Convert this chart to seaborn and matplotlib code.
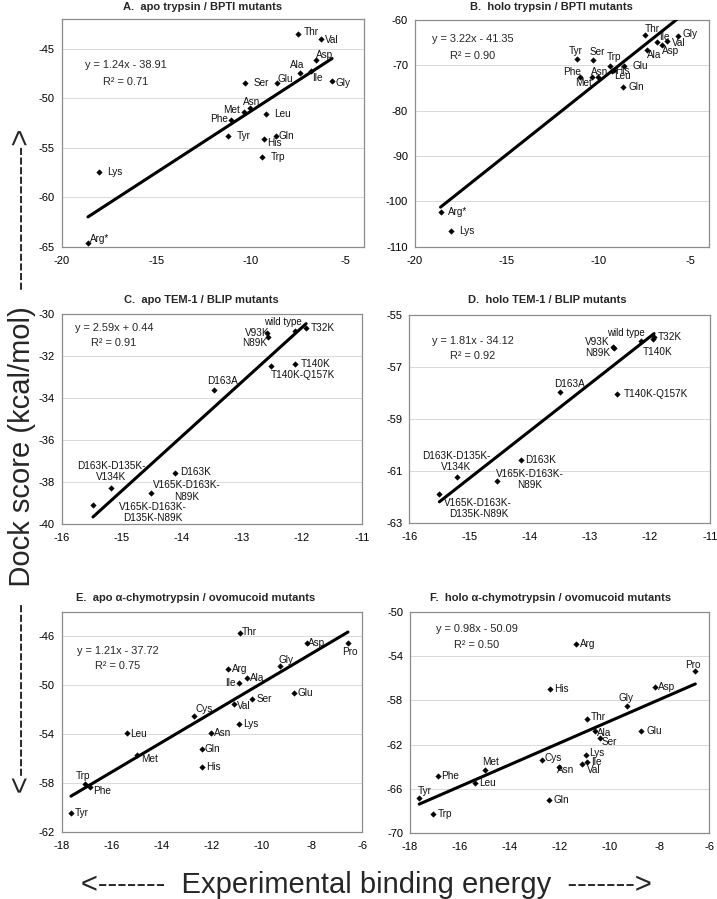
import matplotlib
matplotlib.use("Agg")
import matplotlib.pyplot as plt
import seaborn as sns
import pandas as pd
import numpy as np

sns.set_theme(style="white")
plt.rcParams['font.family'] = ['Liberation Sans', 'DejaVu Sans']

# ---------------- data ----------------
# Panel A / B : trypsin / BPTI mutants
ab_names = ['Thr', 'Val', 'Asp', 'Ala', 'Ile', 'Gly', 'Ser', 'Glu', 'Asn', 'Met',
            'Leu', 'Phe', 'Tyr', 'Gln', 'His', 'Trp', 'Lys', 'Arg*']
ab_x = [-7.47, -6.29, -6.54, -7.40, -6.82, -5.69, -10.29, -8.62, -10.03, -10.35,
        -9.18, -11.02, -11.18, -8.67, -9.27, -9.38, -18.02, -18.61]
a_y = [-43.46, -44.0, -46.1, -47.41, -47.24, -48.25, -48.45, -48.45, -50.93, -51.36,
       -51.53, -52.2, -53.81, -53.81, -54.08, -55.89, -57.46, -64.6]
b_y = [-63.24, -64.56, -65.44, -66.6, -64.93, -63.53, -68.9, -70.15, -72.65, -72.65,
       -71.0, -72.5, -68.6, -74.85, -71.2, -70.07, -106.5, -102.4]

# Panel C / D : TEM-1 / BLIP mutants
cd_names = ['wild type', 'T32K', 'V93K', 'N89K', 'T140K', 'T140K-Q157K', 'D163A', 'D163K',
            'V165K-D163K-\nN89K', 'D163K-D135K-\nV134K', 'V165K-D163K-\nD135K-N89K']
c_x = [-12.11, -11.93, -12.58, -12.56, -12.12, -12.51, -13.46, -14.11, -14.51, -15.18, -15.48]
c_y = [-30.79, -30.65, -30.92, -31.08, -32.38, -32.47, -33.61, -37.58, -38.53, -38.26, -39.08]
d_x = [-12.15, -11.93, -12.61, -12.59, -11.95, -12.55, -13.49, -14.14, -14.54, -15.2, -15.5]
d_y = [-55.99, -55.83, -56.22, -56.28, -55.93, -58.03, -57.94, -60.57, -61.36, -61.24, -61.88]

# Panel E / F : alpha-chymotrypsin / ovomucoid mutants
ef_names = ['Thr', 'Asp', 'Pro', 'Gly', 'Arg', 'Ala', 'Ile', 'Glu', 'Ser', 'Val',
            'Cys', 'Lys', 'Leu', 'Asn', 'Gln', 'Met', 'His', 'Trp', 'Phe', 'Tyr']
ef_x = [-10.89, -8.19, -6.56, -9.29, -11.35, -10.59, -10.91, -8.72, -10.38, -11.12,
        -12.72, -10.93, -15.38, -12.02, -12.41, -15.01, -12.39, -17.07, -16.87, -17.63]
e_y = [-45.7, -46.52, -46.54, -48.45, -48.69, -49.45, -49.8, -50.67, -51.16, -51.54,
       -52.49, -53.2, -53.93, -53.88, -55.21, -55.7, -56.65, -58.09, -58.34, -60.4]
f_y = [-59.65, -56.8, -55.35, -58.51, -52.92, -60.74, -63.56, -60.74, -61.37, -63.74,
       -63.41, -62.96, -65.49, -63.98, -66.99, -64.29, -56.95, -68.26, -64.8, -66.84]

titles = ['A.  apo trypsin / BPTI mutants', 'B.  holo trypsin / BPTI mutants',
          'C.  apo TEM-1 / BLIP mutants', 'D.  holo TEM-1 / BLIP mutants',
          'E.  apo \u03b1-chymotrypsin / ovomucoid mutants',
          'F.  holo \u03b1-chymotrypsin / ovomucoid mutants']
slopes = [1.24, 3.22, 2.59, 1.81, 1.21, 0.98]
intercepts = [-38.91, -41.35, 0.44, -34.12, -37.72, -50.09]
r2_vals = ['0.71', '0.90', '0.91', '0.92', '0.75', '0.50']

x_ticks = [[-20, -15, -10, -5], [-20, -15, -10, -5],
           [-16, -15, -14, -13, -12, -11], [-16, -15, -14, -13, -12, -11],
           [-18, -16, -14, -12, -10, -8, -6], [-18, -16, -14, -12, -10, -8, -6]]
y_ticks = [[-65, -60, -55, -50, -45], [-110, -100, -90, -80, -70, -60],
           [-40, -38, -36, -34, -32, -30], [-63, -61, -59, -57, -55],
           [-62, -58, -54, -50, -46], [-70, -66, -62, -58, -54, -50]]

# ---------------- layout / style (pixels) ----------------
W, H = 717, 899
boxes = [(61.7, 19.3, 364, 246.7), (415, 20, 709, 246.7),
         (61.7, 314, 362, 524.3), (409.3, 315, 710, 523.3),
         (61.7, 611.7, 362, 832.3), (410, 611.7, 709.3, 833.3)]
xlims = [(-20, -4), (-20, -4), (-16, -11), (-16, -11), (-18, -6), (-18, -6)]
ylims = [(-65, -42), (-110, -60), (-40, -30), (-63, -55), (-62, -44), (-70, -50)]
title_pos = [(203, 7.5), (551.7, 7.5), (201, 300), (547.5, 300), (195.5, 598), (551, 598)]
eq_pos = [(0.213, 0.799, 0.726), (0.196, 0.915, 0.842), (0.174, 0.935, 0.861),
          (0.212, 0.877, 0.805), (0.186, 0.823, 0.754), (0.223, 0.921, 0.850)]

off_ab_a = [(12.3, 1.3), (11, -0.7), (9, 5.3), (-2.3, 7.3), (6.7, -7), (10.7, -2),
            (15.7, 0), (8.3, 3.7), (2, 6), (-12.3, 2.3), (16.7, 0), (-12.7, 0.7),
            (15.3, 0), (11, 0), (9.7, -4.7), (16, 0), (15.7, 0), (11.3, 4)]
off_ab_b = [(7.3, 5.3), (12, -2), (8.3, -6), (8, -5), (7.3, 5), (11.7, 2),
            (4, 8), (16.7, 0), (1.3, 5.7), (-8.7, -5.3), (8.7, -6.3), (-8, 5),
            (-1.7, 8.3), (12.7, 0), (10, -0.7), (4.3, 8.3), (15, 0), (17.3, 0)]
off_c = [(-12.3, 8.7), (17, 0), (-10, 0.7), (-13.3, -6.7), (20.7, 0), (31.7, -9),
         (8.3, 9.3), (20, 1.3), (35.7, 2.3), (0.3, 16), (59.7, -7.3)]
off_d = [(-15, 7.3), (15.7, -0.7), (-15.7, 5), (-17, -4.3), (4.3, -12.3), (39, 0),
         (9, 7.7), (19.3, 0), (32.3, 1.3), (-1, 15.7), (39, -14.3)]
off_e = [(10, 0.7), (9, 0), (1.7, -9.3), (6.7, 6.7), (11.7, 0), (10, 0), (-8.3, -0.7),
         (11.7, 0), (12.3, 0), (10, -2), (10, 6.7), (11.7, 0), (11.7, -0.7), (11.7, 0),
         (11, 0), (13.3, -4), (11, 0), (-1.7, 8.3), (11.7, -3.3), (10.7, 0)]
off_f = [(10.7, 2), (12, 0), (-2.3, 6), (-1, 8.3), (12.3, 0), (9.3, -2.7), (10, 0),
         (12.7, 0), (9.3, -4), (12.5, -6), (11.7, 2), (10.7, 2.7), (12.3, 0), (6.5, -3.3),
         (11.7, 0), (5.7, 7.7), (11.3, 0), (11.3, 0), (12.3, 0), (5.7, 7.3)]

panels = [
    (ab_names, ab_x, a_y, off_ab_a),
    (ab_names, ab_x, b_y, off_ab_b),
    (cd_names, c_x, c_y, off_c),
    (cd_names, d_x, d_y, off_d),
    (ef_names, ef_x, e_y, off_e),
    (ef_names, ef_x, f_y, off_f),
]

fig = plt.figure(figsize=(W / 100, H / 100), dpi=100)
fig.patch.set_facecolor('white')

for i, (names, xs, ys, offs) in enumerate(panels):
    l, t, r, b = boxes[i]
    ax = fig.add_axes([l / W, 1 - b / H, (r - l) / W, (b - t) / H])
    ax.set_facecolor('white')
    df = pd.DataFrame({'x': xs, 'y': ys, 'name': names})
    # regression line from stated fit over the data range
    x0, x1 = min(xs), max(xs)
    ldf = pd.DataFrame({'x': [x0, x1],
                        'y': [slopes[i] * x0 + intercepts[i], slopes[i] * x1 + intercepts[i]]})
    sns.lineplot(data=ldf, x='x', y='y', ax=ax, color='black', linewidth=2.2, zorder=3)
    sns.scatterplot(data=df, x='x', y='y', ax=ax, marker='D', s=8, color='black',
                    edgecolor='black', linewidth=0.3, zorder=4)
    for nm, xv, yv, (dx, dy) in zip(names, xs, ys, offs):
        fs = 7.0 if nm == 'wild type' else 7.2
        ax.annotate(nm, (xv, yv), xytext=(dx, dy), textcoords='offset pixels',
                    ha='center', va='center', fontsize=fs, color='#111111',
                    linespacing=1.15, zorder=5)
    ax.set_xlim(*xlims[i])
    ax.set_ylim(*ylims[i])
    ax.set_xticks(x_ticks[i])
    ax.set_yticks(y_ticks[i])
    ax.set_xticklabels([str(v) for v in x_ticks[i]])
    ax.set_yticklabels([str(v) for v in y_ticks[i]])
    ax.set_xlabel('')
    ax.set_ylabel('')
    ax.yaxis.grid(True, color='#d9d9d9', linewidth=0.7)
    ax.xaxis.grid(False)
    ax.set_axisbelow(True)
    for sp in ax.spines.values():
        sp.set_color('#8c8c8c')
        sp.set_linewidth(0.9)
    ax.tick_params(axis='both', which='major', labelsize=8, colors='#8c8c8c',
                   labelcolor='black', length=2.5, width=0.7, direction='out', pad=2.5)
    ax.tick_params(axis='x', pad=4)
    ex, ey1, ey2 = eq_pos[i]
    sign = '+' if intercepts[i] >= 0 else '-'
    ax.text(ex, ey1, f'y = {slopes[i]:.2f}x {sign} {abs(intercepts[i]):.2f}',
            transform=ax.transAxes, ha='center', va='center', fontsize=7.9)
    ax.text(ex, ey2, f'R\u00b2 = {r2_vals[i]}', transform=ax.transAxes,
            ha='center', va='center', fontsize=7.9)
    tx, ty = title_pos[i]
    fig.text(tx / W, 1 - ty / H, titles[i], ha='center', va='center',
             fontsize=8, fontweight='bold')

fig.text(22 / W, 1 - 461 / H,
         '<------------------  Dock score (kcal/mol)  --------------->',
         rotation=90, ha='center', va='center', fontsize=21)
fig.text(366 / W, 1 - 893 / H, '<-------  Experimental binding energy  ------->',
         ha='center', va='baseline', fontsize=21)

fig.savefig('out.png', dpi=100, facecolor='white')
